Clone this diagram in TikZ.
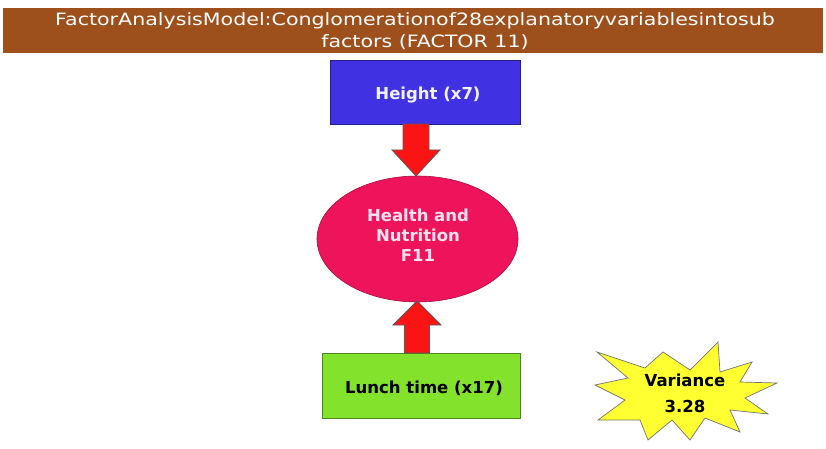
\documentclass[tikz,border=0pt]{standalone}
\usepackage{fontspec}
\setmainfont{DejaVu Sans}
\usetikzlibrary{calc,shapes.geometric}
\definecolor{titlebrown}{RGB}{158,80,28}
\definecolor{boxblue}{RGB}{64,50,226}
\definecolor{elpink}{RGB}{238,20,92}
\definecolor{boxgreen}{RGB}{130,226,44}
\definecolor{staryellow}{RGB}{255,255,50}
\definecolor{arrowred}{RGB}{250,20,20}
\definecolor{pinktext}{RGB}{255,225,240}
\tikzset{
  titletext/.style={text=white,font=\fontsize{17}{20}\selectfont,inner sep=0pt},
  varbox/.style={draw=#1!60!black,line width=0.6pt,fill=#1,minimum width=190pt,minimum height=64pt,inner sep=0pt},
  fatarrow/.style={fill=arrowred,draw=black!65,line width=0.8pt,line join=miter},
  labeltext/.style={font=\bfseries\fontsize{16.5}{20}\selectfont,inner sep=0pt,align=center}
}
\begin{document}
\begin{tikzpicture}[x=1pt,y=-1pt]
\useasboundingbox (0,0) rectangle (826,449);
\fill[white] (0,0) rectangle (826,449);
% title bar
\fill[titlebrown] (3,8) rectangle (823,53);
\node[titletext] (t1) at (415,21) {\scalebox{1.21}[1]{FactorAnalysisModel:Conglomerationof28explanatoryvariablesintosub}};
\node[titletext] (t2) at (425,42) {\scalebox{1.21}[1]{factors (FACTOR 11)}};
% nodes
\node[varbox=boxblue,minimum width=190pt,minimum height=64pt] (h) at (425,92) {};
\node[labeltext,text=white!95!blue] (hl) at (428,95) {Height (x7)};
\node[ellipse,draw=elpink!70!black,line width=0.6pt,fill=elpink,minimum width=201pt,minimum height=126pt,inner sep=0pt] (e) at (417.5,239) {};
\node[labeltext,text=pinktext] (el) at (418,235) {Health and\\Nutrition\\F11};
\node[varbox=boxgreen,minimum width=198pt,minimum height=65pt] (l) at (421,385.5) {};
\node[labeltext,text=black] (ll) at (424,388) {Lunch time (x17)};
% arrows
\coordinate (dt) at (416,124);
\coordinate (dp) at (416,176);
\draw[fatarrow] ($(dt)+(-13,0)$) -- ($(dt)+(13,0)$) -- ($(dp)+(13,-26)$) -- ($(dp)+(24,-26)$) -- (dp) -- ($(dp)+(-24,-26)$) -- ($(dp)+(-13,-26)$) -- cycle;
\coordinate (ub) at (417,353);
\coordinate (up) at (417,301);
\draw[fatarrow] ($(ub)+(-12.5,0)$) -- ($(ub)+(12.5,0)$) -- ($(up)+(12.5,24)$) -- ($(up)+(24,24)$) -- (up) -- ($(up)+(-24,24)$) -- ($(up)+(-12.5,24)$) -- cycle;
% starburst
\draw[fill=staryellow,draw=black!55,line width=0.7pt,line join=miter]
 (597,352) -- (645,368) -- (663,352) -- (690,370) -- (718,342) -- (720,372) --
 (752,362) -- (740,382) -- (777,383) -- (745,398) -- (768,414) -- (730,410) --
 (740,432) -- (705,418) -- (690,440) -- (672,420) -- (648,440) -- (640,420) --
 (598,420) -- (625,400) -- (595,385) -- (628,378) -- cycle;
\node[labeltext,text=black,font=\bfseries\fontsize{16.5}{26}\selectfont] (v) at (685,393) {Variance\\3.28};
\end{tikzpicture}
\end{document}
